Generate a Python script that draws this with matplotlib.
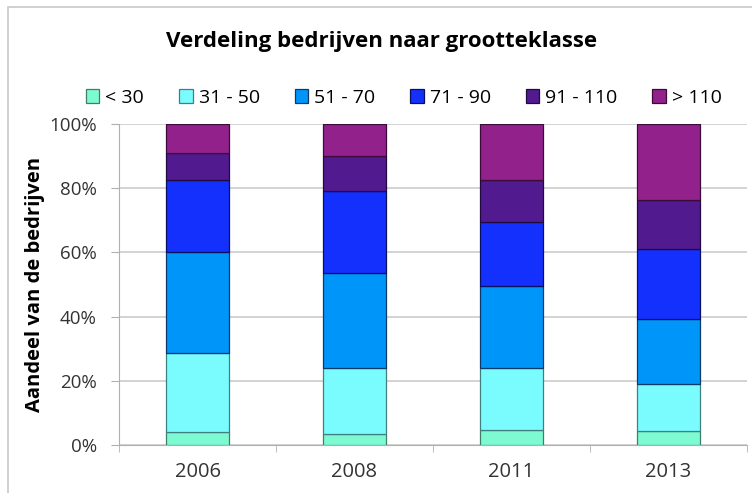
import matplotlib
matplotlib.use("Agg")
import matplotlib.pyplot as plt
import numpy as np
from matplotlib.patches import Rectangle

years = ["2006", "2008", "2011", "2013"]
classes = ["< 30", "31 - 50", "51 - 70", "71 - 90", "91 - 110", "> 110"]
share_lt30 = [4.1, 3.4, 4.7, 4.5]
share_31_50 = [24.5, 20.7, 19.2, 14.4]
share_51_70 = [31.6, 29.6, 25.7, 20.4]
share_71_90 = [22.4, 25.4, 19.8, 21.7]
share_91_110 = [8.5, 10.9, 13.2, 15.3]
share_gt110 = [8.9, 10.0, 17.4, 23.7]
colors = ["#7dfad2", "#7afcff", "#0095f8", "#1430fc", "#521a8f", "#93218c"]
edges = ["#3f7f6a", "#3f7f80", "#0a3a6a", "#0a1060", "#200a40", "#3a0a38"]

series = [share_lt30, share_31_50, share_51_70, share_71_90, share_91_110, share_gt110]

plt.rcParams["font.family"] = ["Open Sans", "DejaVu Sans"]

fig = plt.figure(figsize=(7.52, 4.93), dpi=100)
fig.patches.append(Rectangle((8 / 752, -0.1), 1.2, 1 - 7 / 493 + 0.1,
                             transform=fig.transFigure, fill=False,
                             edgecolor="#c8c8c8", linewidth=1.2))
ax = fig.add_axes([119 / 752, 1 - 445 / 493, 628 / 752, 321 / 493])

x = np.arange(len(years))
bottom = np.zeros(len(years))
handles = []
for vals, c, ec, lab in zip(series, colors, edges, classes):
    b = ax.bar(x, vals, width=0.4, bottom=bottom, color=c, edgecolor=ec,
               linewidth=0.9, label=lab, zorder=3)
    handles.append(b)
    bottom += np.array(vals)

ax.set_xlim(-0.5, len(years) - 0.5)
ax.set_ylim(0, 100)
ax.set_yticks(range(0, 101, 20))
ax.set_yticklabels([f"{v}%" for v in range(0, 101, 20)], fontsize=13.5, color="#333333")
ax.set_xticks(x)
ax.set_xticklabels(years, fontsize=14.5, color="#333333")
ax.set_xticks(np.arange(-0.5, len(years)), minor=True)
ax.tick_params(axis="x", which="major", length=0, pad=12)
ax.tick_params(axis="x", which="minor", length=5, color="#b0b0b0", direction="out")
ax.tick_params(axis="y", length=6, color="#b0b0b0", direction="out", pad=10)
ax.grid(axis="y", color="#c8c8c8", linewidth=1.1, zorder=0)
for s in ["top", "right"]:
    ax.spines[s].set_visible(False)
ax.spines["left"].set_color("#b0b0b0")
ax.spines["bottom"].set_color("#b0b0b0")

ax.set_ylabel("Aandeel van de bedrijven", fontsize=14.5, fontweight="bold", labelpad=3)
fig.text(0.507, 1 - 42 / 493, "Verdeling bedrijven naar grootteklasse",
         ha="center", va="center", fontsize=16, fontweight="bold")

fig.legend(handles=handles, labels=classes, loc="center", ncol=6,
           bbox_to_anchor=(0.537, 1 - 98 / 493), frameon=False, fontsize=14,
           handlelength=0.7, handleheight=0.7, handletextpad=0.3, columnspacing=1.8)

fig.savefig("out.png", dpi=100)
